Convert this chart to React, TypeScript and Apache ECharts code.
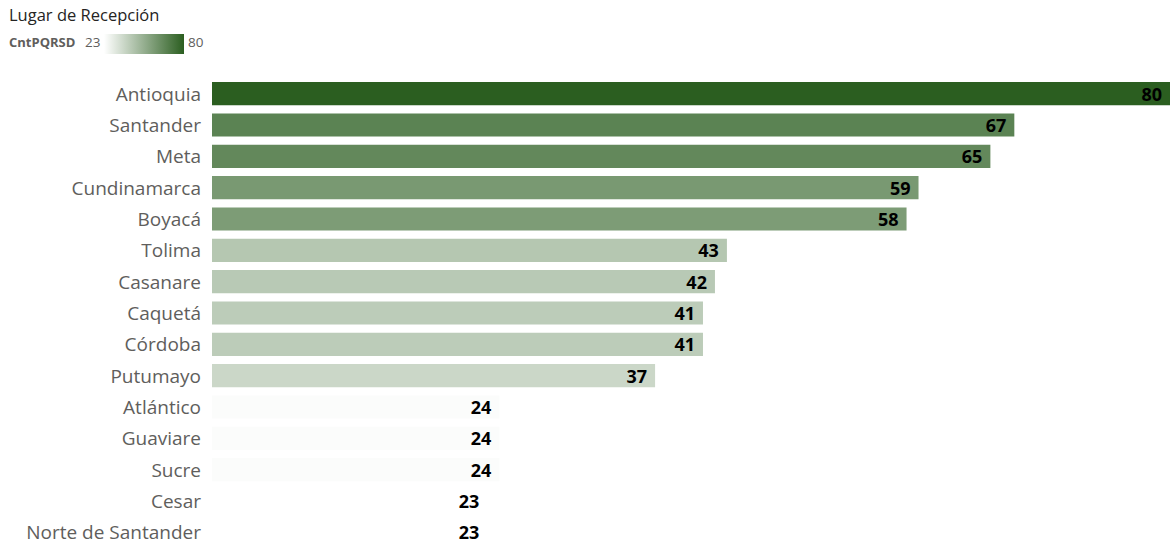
import React, { useEffect, useRef } from "react";
import * as echarts from "echarts";

const categories = [
  "Antioquia", "Santander", "Meta", "Cundinamarca", "Boyacá", "Tolima", "Casanare",
  "Caquetá", "Córdoba", "Putumayo", "Atlántico", "Guaviare", "Sucre", "Cesar", "Norte de Santander",
];
const values = [80, 67, 65, 59, 58, 43, 42, 41, 41, 37, 24, 24, 24, 23, 23];
const legendTitle = "Lugar de Recepción";
const legendField = "CntPQRSD";
const legendMin = 23;
const legendMax = 80;
const lowColor = "#ffffff";
const highColor = "#2b5e20";

const FONT = "'Segoe UI', 'Open Sans', 'Noto Sans', sans-serif";

export default function App() {
  const ref = useRef<HTMLDivElement>(null);
  useEffect(() => {
    if (!ref.current) return;
    const chart = echarts.init(ref.current, null, { renderer: "svg" });
    chart.setOption({
      animation: false,
      backgroundColor: "#ffffff",
      grid: { left: 212, top: 78, width: 960, height: 470, containLabel: false },
      visualMap: {
        show: false,
        type: "continuous",
        min: legendMin,
        max: legendMax,
        dimension: 0,
        seriesIndex: 0,
        inRange: { color: [lowColor, highColor] },
      },
      xAxis: { type: "value", min: 0, max: 80, show: false },
      yAxis: {
        type: "category",
        data: categories,
        inverse: true,
        axisLine: { show: false },
        axisTick: { show: false },
        splitLine: { show: false },
        axisLabel: { color: "#605e5c", fontSize: 19, lineHeight: 20, fontFamily: FONT, margin: 11 },
      },
      series: [
        {
          type: "bar",
          data: values,
          barCategoryGap: "26%",
          label: {
            show: true,
            position: "insideRight",
            distance: 8,
            color: "#000000",
            fontWeight: "bold",
            fontSize: 18,
            lineHeight: 19,
            fontFamily: FONT,
          },
        },
      ],
      graphic: [
        {
          type: "text",
          left: 9,
          top: 6,
          style: { text: legendTitle, fill: "#252423", fontSize: 16.5, fontFamily: FONT },
        },
        {
          type: "text",
          left: 9,
          top: 35,
          style: { text: legendField, fill: "#605e5c", fontSize: 13, fontWeight: "bold", fontFamily: FONT },
        },
        {
          type: "text",
          left: 85,
          top: 35,
          style: { text: String(legendMin), fill: "#605e5c", fontSize: 13.5, fontFamily: FONT },
        },
        {
          type: "rect",
          shape: { x: 104, y: 34, width: 80, height: 20 },
          style: {
            fill: new echarts.graphic.LinearGradient(0, 0, 1, 0, [
              { offset: 0, color: lowColor },
              { offset: 1, color: highColor },
            ]),
          },
        },
        {
          type: "text",
          left: 188,
          top: 35,
          style: { text: String(legendMax), fill: "#605e5c", fontSize: 13.5, fontFamily: FONT },
        },
      ],
    });
    return () => chart.dispose();
  }, []);
  return (
    <div style={{ position: "absolute", left: 0, top: 0, width: 1170, height: 544, overflow: "hidden" }}>
      <div ref={ref} style={{ width: 1170, height: 560 }} />
    </div>
  );
}
